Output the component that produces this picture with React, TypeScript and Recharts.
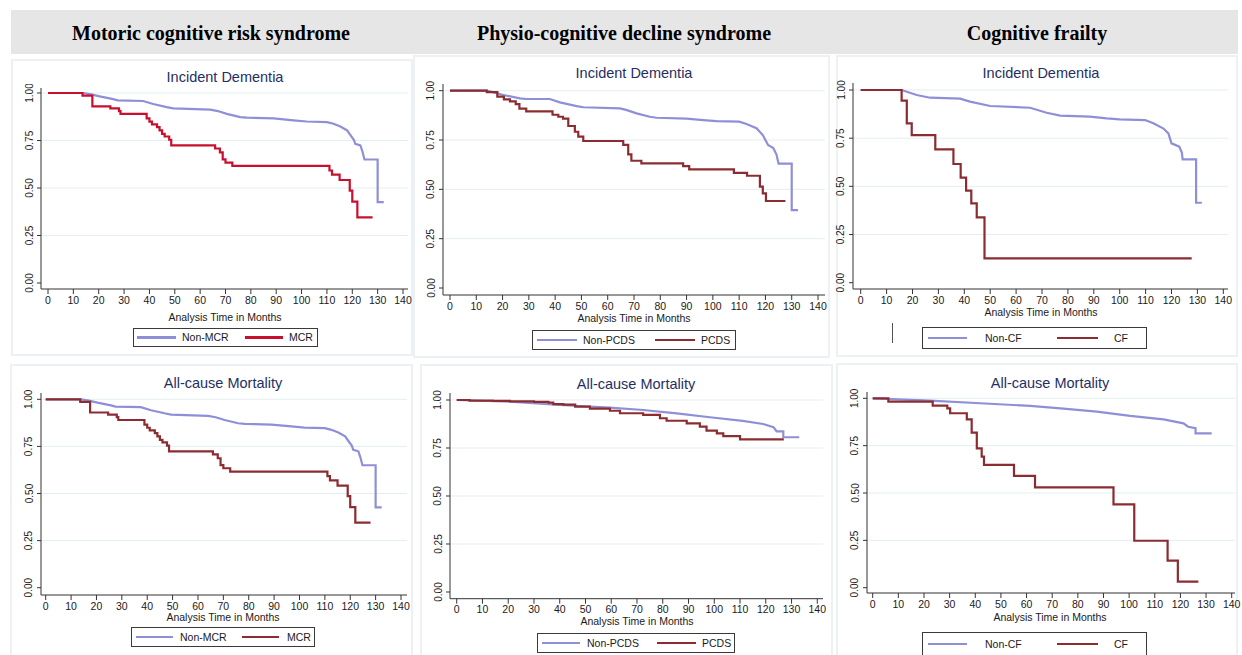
import React from 'react';
import { LineChart, Line, XAxis, YAxis, CartesianGrid } from 'recharts';

type Pt = [number, number];

const X_TICKS = [0, 10, 20, 30, 40, 50, 60, 70, 80, 90, 100, 110, 120, 130, 140];
const Y_TICKS = [0, 0.25, 0.5, 0.75, 1];
const GRID_Y = [0.25, 0.5, 0.75, 1];

const HEADERS = ['Motoric cognitive risk syndrome', 'Physio-cognitive decline syndrome', 'Cognitive frailty'];
const OUTCOMES = ['Incident Dementia', 'All-cause Mortality'];
const X_TITLE = 'Analysis Time in Months';
const GROUPS: [string, string][] = [
  ['Non-MCR', 'MCR'],
  ['Non-PCDS', 'PCDS'],
  ['Non-CF', 'CF'],
];

// Kaplan-Meier survival, [months, survival]
const NON_MCR: Pt[] = [
  [0, 1], [14, 1], [17, 0.993], [20.4, 0.982], [25.7, 0.968], [27.5, 0.961], [37.5, 0.958],
  [41.5, 0.942], [46.8, 0.926], [49.4, 0.919], [64, 0.912], [67, 0.905], [70.5, 0.89],
  [75.8, 0.873], [78.4, 0.87], [89, 0.866], [96.8, 0.856], [102, 0.85], [110, 0.847],
  [112.6, 0.838], [115.3, 0.824], [118, 0.803], [119.2, 0.78], [120.6, 0.754], [121.2, 0.732],
  [123.2, 0.724], [124, 0.692], [124.8, 0.65], [130, 0.65], [130, 0.426], [132.4, 0.426],
];
const MCR: Pt[] = [
  [0, 1], [13.6, 0.986], [17.5, 0.93], [24.6, 0.919], [28, 0.905], [28.6, 0.89], [38.9, 0.866],
  [40, 0.849], [41, 0.835], [43, 0.82], [44, 0.803], [45, 0.785], [46, 0.771], [47.8, 0.754],
  [48.6, 0.724], [65.9, 0.708], [67.8, 0.687], [68.9, 0.651], [70, 0.634], [72.7, 0.616],
  [111, 0.592], [112, 0.57], [115, 0.542], [119, 0.486], [120, 0.428], [122, 0.345], [128, 0.345],
];
const NON_PCDS_DEM: Pt[] = [
  [0, 1], [14, 1], [17, 0.99], [20.3, 0.978], [26.6, 0.961], [29, 0.958], [38, 0.958],
  [41.8, 0.941], [48.2, 0.922], [50.7, 0.916], [64.6, 0.91], [67, 0.903], [71, 0.885],
  [76, 0.868], [78.6, 0.863], [90, 0.858], [96.3, 0.851], [101.4, 0.846], [110, 0.843],
  [112.8, 0.831], [116.6, 0.81], [119, 0.775], [121, 0.725], [123, 0.71], [124.2, 0.676],
  [125, 0.63], [130, 0.63], [130, 0.395], [132.4, 0.395],
];
const PCDS_DEM: Pt[] = [
  [0, 1], [14, 0.993], [18, 0.97], [20.5, 0.956], [22.8, 0.946], [25, 0.932], [26.4, 0.909],
  [29, 0.895], [39, 0.878], [41.2, 0.868], [43, 0.858], [45, 0.821], [47.5, 0.792], [48.8, 0.767],
  [50.7, 0.745], [65.9, 0.725], [67.8, 0.677], [69, 0.645], [72.8, 0.632], [88.7, 0.618],
  [91, 0.601], [108, 0.584], [113, 0.569], [117.9, 0.514], [119, 0.48], [120.2, 0.441], [127.6, 0.441],
];
const NON_CF_DEM: Pt[] = [
  [0, 1], [15.8, 1], [21.6, 0.974], [26.8, 0.96], [38.4, 0.955], [42.2, 0.94], [50, 0.917],
  [65.4, 0.908], [71.8, 0.882], [77, 0.867], [88.5, 0.862], [95, 0.853], [100, 0.848],
  [109.8, 0.844], [113, 0.827], [116.9, 0.8], [118.8, 0.775], [120, 0.723], [123, 0.706],
  [124, 0.675], [124.3, 0.64], [129.5, 0.64], [129.5, 0.415], [131.7, 0.415],
];
const CF_DEM: Pt[] = [
  [0, 1], [15.8, 0.945], [17.8, 0.827], [19.7, 0.766], [28.8, 0.692], [35.8, 0.616], [38.6, 0.545],
  [40.7, 0.478], [42.7, 0.412], [44.8, 0.339], [47.8, 0.126], [127.8, 0.126],
];
const NON_PCDS_MORT: Pt[] = [
  [0, 1], [20.7, 0.991], [40, 0.974], [59.5, 0.96], [72.4, 0.948], [85.4, 0.93], [98.3, 0.91],
  [111, 0.891], [119, 0.875], [123, 0.858], [124.2, 0.837], [126.8, 0.837], [126.8, 0.806], [133, 0.806],
];
const PCDS_MORT: Pt[] = [
  [0, 1], [5, 0.997], [14, 0.995], [20.7, 0.993], [30, 0.99], [35.6, 0.986], [37.5, 0.979],
  [41.4, 0.976], [46, 0.965], [51.7, 0.955], [59.5, 0.944], [63.4, 0.931], [72.4, 0.922],
  [78.9, 0.905], [81.5, 0.892], [89.3, 0.878], [94.4, 0.861], [97, 0.84], [101, 0.826],
  [103.5, 0.812], [110, 0.795], [127, 0.795],
];
const NON_CF_MORT: Pt[] = [
  [0, 1], [22.4, 0.988], [41.9, 0.974], [61.4, 0.96], [74.4, 0.945], [87.4, 0.93], [100.4, 0.907],
  [113.4, 0.889], [121.2, 0.868], [123, 0.85], [125.9, 0.842], [125.9, 0.815], [132.2, 0.815],
];
const CF_MORT: Pt[] = [
  [0, 1], [6.1, 0.982], [23.4, 0.961], [29.1, 0.947], [30.2, 0.921], [36.7, 0.889], [38.6, 0.819],
  [40.6, 0.736], [42.5, 0.692], [43.4, 0.648], [55.1, 0.59], [63.3, 0.53], [93.9, 0.44],
  [102, 0.248], [115, 0.143], [119, 0.032], [127, 0.032],
];

const SANS = '"Liberation Sans", Arial, Helvetica, sans-serif';
const SERIF = '"Liberation Serif", "Times New Roman", serif';
const LAV = '#8f8fd8';
const CRIMSON = '#c8102e';
const MAROON = '#8b2c31';
const NAVY = '#1f2f62';

interface Axis { l: number; r: number; t: number; b: number; x0: number; x140: number; y1: number; y0: number }
interface Lg { l: number; t: number; w: number; h: number; lines: [number, number][]; text: number[] }
interface Panel {
  col: number;
  row: number;
  ref: Pt[];
  grp: Pt[];
  grpColor: string;
  frame: [number, number, number, number];
  axis: Axis;
  titleAt: [number, number];
  xTitleAt: [number, number];
  legend: Lg;
}

const PANELS: Panel[] = [
  {
    col: 0, row: 0, ref: NON_MCR, grp: MCR, grpColor: CRIMSON,
    frame: [11, 59, 413, 356],
    axis: { l: 41, r: 408, t: 88, b: 289, x0: 48, x140: 403, y1: 93, y0: 283 },
    titleAt: [225, 77], xTitleAt: [225, 317],
    legend: { l: 133, t: 328, w: 185, h: 19, lines: [[137, 176], [245, 283]], text: [182, 289] },
  },
  {
    col: 1, row: 0, ref: NON_PCDS_DEM, grp: PCDS_DEM, grpColor: MAROON,
    frame: [413, 55, 830, 358],
    axis: { l: 443, r: 825, t: 84, b: 295, x0: 450, x140: 818, y1: 90.7, y0: 288 },
    titleAt: [634, 73], xTitleAt: [634, 318],
    legend: { l: 532, t: 330, w: 204, h: 20, lines: [[537, 577], [655, 695]], text: [583, 701] },
  },
  {
    col: 2, row: 0, ref: NON_CF_DEM, grp: CF_DEM, grpColor: MAROON,
    frame: [836, 55, 1238, 357],
    axis: { l: 853, r: 1228, t: 83, b: 289, x0: 860.7, x140: 1223.3, y1: 90, y0: 282.7 },
    titleAt: [1041, 73], xTitleAt: [1041, 312],
    legend: { l: 922, t: 327, w: 225, h: 22, lines: [[928, 967], [1057, 1098]], text: [985, 1114] },
  },
  {
    col: 0, row: 1, ref: NON_MCR, grp: MCR, grpColor: MAROON,
    frame: [10, 364, 413, 662],
    axis: { l: 41, r: 407, t: 393, b: 595, x0: 45.7, x140: 401, y1: 399.3, y0: 587.7 },
    titleAt: [223, 383], xTitleAt: [223, 617],
    legend: { l: 131, t: 627, w: 184, h: 20, lines: [[136, 173], [242, 279]], text: [180, 287] },
  },
  {
    col: 1, row: 1, ref: NON_PCDS_MORT, grp: PCDS_MORT, grpColor: MAROON,
    frame: [420, 364, 833, 662],
    axis: { l: 450, r: 823, t: 393, b: 598.7, x0: 456.7, x140: 817.3, y1: 400, y0: 592 },
    titleAt: [636, 384], xTitleAt: [637, 621],
    legend: { l: 537, t: 633, w: 198, h: 20, lines: [[542, 580], [657, 696]], text: [587, 702] },
  },
  {
    col: 2, row: 1, ref: NON_CF_MORT, grp: CF_MORT, grpColor: MAROON,
    frame: [836, 363, 1238, 662],
    axis: { l: 867, r: 1235, t: 392, b: 593, x0: 872.7, x140: 1231.7, y1: 398.3, y0: 587.7 },
    titleAt: [1050, 383], xTitleAt: [1050, 617],
    legend: { l: 922, t: 632, w: 225, h: 24, lines: [[928, 967], [1057, 1098]], text: [985, 1114] },
  },
];

const HEADER_X = [211, 624, 1037];

const toRows = (pts: Pt[]) => pts.map(([t, s]) => ({ t, s }));

function XTick(props: any) {
  const { x, y, payload } = props;
  return (
    <text x={x} y={y + 4} textAnchor="middle" dominantBaseline="central" fontSize={10.5} fill="#1a1a1a" fontFamily={SANS}>
      {payload.value}
    </text>
  );
}

function YTick(props: any) {
  const { x, y, payload } = props;
  const cx = x - 6;
  return (
    <text
      x={cx} y={y}
      transform={`rotate(-90 ${cx} ${y})`}
      textAnchor="middle" dominantBaseline="central"
      fontSize={10} fill="#1a1a1a" fontFamily={SANS}
    >
      {Number(payload.value).toFixed(2)}
    </text>
  );
}

const YW = 40;
const PAD_T = 4;
const PAD_R = 6;
const XH = 30;

function KMPanel({ p }: { p: Panel }) {
  const a = p.axis;
  const pxT = (a.x140 - a.x0) / 140;
  const pxS = a.y0 - a.y1;
  const xDom: [number, number] = [(a.l - a.x0) / pxT, (a.r - a.x0) / pxT];
  const yDom: [number, number] = [-(a.b - a.y0) / pxS, 1 + (a.y1 - a.t) / pxS];
  const w = a.r - a.l + YW + PAD_R;
  const h = a.b - a.t + PAD_T + XH;
  const [l, t, r, b] = p.frame;
  const labels = GROUPS[p.col];
  const colors = [LAV, p.grpColor];
  const lg = p.legend;

  return (
    <>
      <div style={{ position: 'absolute', left: l, top: t, width: r - l, height: b - t, border: '2px solid #edf1f3', boxSizing: 'border-box' }} />
      <div style={{ position: 'absolute', left: p.titleAt[0] - 150, top: p.titleAt[1] - 10, width: 300, height: 20, lineHeight: '20px', textAlign: 'center', fontFamily: SANS, fontSize: 14.5, color: NAVY }}>
        {OUTCOMES[p.row]}
      </div>
      <div style={{ position: 'absolute', left: a.l - YW, top: a.t - PAD_T }}>
        <LineChart width={w} height={h} margin={{ top: PAD_T, right: PAD_R, bottom: 0, left: 0 }}>
          <CartesianGrid vertical={false} horizontalValues={GRID_Y} stroke="#e3eef0" strokeWidth={1} />
          <XAxis
            type="number" dataKey="t" domain={xDom} allowDataOverflow ticks={X_TICKS} interval={0}
            height={XH} tickSize={5} stroke="#333" tick={<XTick />}
          />
          <YAxis
            type="number" dataKey="s" domain={yDom} allowDataOverflow ticks={Y_TICKS} interval={0}
            width={YW} tickSize={4} stroke="#333" tick={<YTick />}
          />
          <Line data={toRows(p.ref)} dataKey="s" type="linear" stroke={LAV} strokeWidth={2.2} dot={false} isAnimationActive={false} />
          <Line data={toRows(p.grp)} dataKey="s" type="stepAfter" stroke={p.grpColor} strokeWidth={2.2} dot={false} isAnimationActive={false} />
        </LineChart>
      </div>
      <div style={{ position: 'absolute', left: p.xTitleAt[0] - 120, top: p.xTitleAt[1] - 7, width: 240, height: 14, lineHeight: '14px', textAlign: 'center', fontFamily: SANS, fontSize: 10.5, color: '#1a1a1a' }}>
        {X_TITLE}
      </div>
      <div style={{ position: 'absolute', left: lg.l, top: lg.t, width: lg.w, height: lg.h, border: '1px solid #3a3a3a', boxSizing: 'border-box', background: '#fff' }}>
        {labels.map((lab, i) => (
          <React.Fragment key={lab}>
            <div style={{ position: 'absolute', left: lg.lines[i][0] - lg.l - 1, top: (lg.h - 2) / 2 - 1.25, width: lg.lines[i][1] - lg.lines[i][0], height: 2.5, background: colors[i] }} />
            <div style={{ position: 'absolute', left: lg.text[i] - lg.l - 1, top: 0, height: lg.h - 2, lineHeight: `${lg.h - 2}px`, fontFamily: SANS, fontSize: 10.5, color: '#1a1a1a', whiteSpace: 'nowrap' }}>
              {lab}
            </div>
          </React.Fragment>
        ))}
      </div>
    </>
  );
}

export default function App() {
  return (
    <div style={{ position: 'absolute', left: 0, top: 0, width: 1242, height: 655, overflow: 'hidden', background: '#fff' }}>
      <div style={{ position: 'absolute', left: 11, top: 10, width: 1227, height: 44, background: '#e6e6e6' }} />
      {HEADERS.map((hd, i) => (
        <div key={hd} style={{ position: 'absolute', left: HEADER_X[i] - 200, top: 20, width: 400, height: 26, lineHeight: '26px', textAlign: 'center', fontFamily: SERIF, fontWeight: 700, fontSize: 20, color: '#000' }}>
          {hd}
        </div>
      ))}
      {PANELS.map((p) => (
        <KMPanel key={`${p.col}-${p.row}`} p={p} />
      ))}
      <div style={{ position: 'absolute', left: 892, top: 323, width: 1, height: 20, background: '#555' }} />
    </div>
  );
}
